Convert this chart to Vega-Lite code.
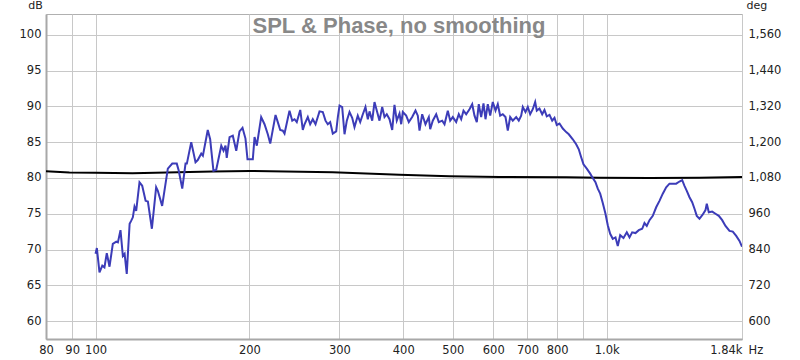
{
  "$schema": "https://vega.github.io/schema/vega-lite/v6.json",
  "width": 696,
  "height": 325,
  "autosize": "none",
  "padding": {"left": 46, "top": 14, "right": 58, "bottom": 21},
  "background": "white",
  "config": {
    "view": {"stroke": "#b0b0b0", "strokeWidth": 1},
    "font": "DejaVu Sans",
    "axis": {"labelFont": "DejaVu Sans", "labelFontSize": 11.5, "labelColor": "#222222", "titleFont": "DejaVu Sans", "titleFontSize": 11, "titleFontWeight": "normal", "titleColor": "#222222", "ticks": false}
  },
  "title": {"text": "SPL & Phase, no smoothing", "frame": "group", "anchor": "middle", "orient": "top", "offset": -39, "dx": 5, "fontSize": 22, "fontWeight": "bold", "color": "#888888", "font": "Liberation Sans"},
  "datasets": {
    "spl": [
      {"f": 100.0, "db": 69.4}, {"f": 100.6, "db": 70.2}, {"f": 101.8, "db": 66.8}, {"f": 103.1, "db": 67.75}, {"f": 104.1, "db": 67.5},
      {"f": 105.2, "db": 69.5}, {"f": 106.5, "db": 67.6}, {"f": 108.1, "db": 70.8}, {"f": 109.8, "db": 71.1}, {"f": 110.6, "db": 71.0},
      {"f": 111.9, "db": 72.7}, {"f": 113.1, "db": 69.1}, {"f": 114.0, "db": 69.4}, {"f": 115.1, "db": 66.6}, {"f": 116.6, "db": 73.6},
      {"f": 117.4, "db": 74.0}, {"f": 118.3, "db": 74.5}, {"f": 119.2, "db": 76.0}, {"f": 120.1, "db": 75.4}, {"f": 121.9, "db": 79.4},
      {"f": 123.4, "db": 78.9}, {"f": 125.3, "db": 76.8}, {"f": 126.6, "db": 76.7}, {"f": 128.9, "db": 72.9}, {"f": 131.4, "db": 78.7},
      {"f": 132.4, "db": 78.2}, {"f": 135.0, "db": 76.1}, {"f": 138.5, "db": 81.3}, {"f": 141.3, "db": 82.0}, {"f": 144.2, "db": 82.0},
      {"f": 145.5, "db": 81.0}, {"f": 147.8, "db": 78.5}, {"f": 150.0, "db": 82.0}, {"f": 150.9, "db": 82.0}, {"f": 153.9, "db": 85.0},
      {"f": 156.9, "db": 82.2}, {"f": 158.5, "db": 82.5}, {"f": 161.0, "db": 83.4}, {"f": 162.2, "db": 83.1}, {"f": 165.8, "db": 86.7},
      {"f": 167.6, "db": 85.4}, {"f": 170.1, "db": 81.0}, {"f": 172.2, "db": 81.1}, {"f": 176.2, "db": 84.5}, {"f": 178.0, "db": 83.8},
      {"f": 179.6, "db": 84.5}, {"f": 180.6, "db": 82.8}, {"f": 182.9, "db": 85.7}, {"f": 185.6, "db": 85.9}, {"f": 188.5, "db": 83.8},
      {"f": 191.3, "db": 86.5}, {"f": 193.9, "db": 87.0}, {"f": 196.5, "db": 85.5}, {"f": 198.3, "db": 82.6}, {"f": 201.0, "db": 82.6},
      {"f": 203.1, "db": 82.6}, {"f": 204.7, "db": 85.7}, {"f": 206.8, "db": 84.5}, {"f": 210.9, "db": 88.5}, {"f": 214.1, "db": 87.5},
      {"f": 217.3, "db": 86.1}, {"f": 219.7, "db": 84.8}, {"f": 225.0, "db": 88.8}, {"f": 227.3, "db": 87.8}, {"f": 229.8, "db": 86.7},
      {"f": 232.5, "db": 86.6}, {"f": 234.3, "db": 86.2}, {"f": 239.6, "db": 89.4}, {"f": 242.6, "db": 88.0}, {"f": 245.1, "db": 88.2},
      {"f": 247.6, "db": 87.8}, {"f": 251.5, "db": 89.5}, {"f": 254.4, "db": 86.7}, {"f": 256.4, "db": 87.5}, {"f": 260.2, "db": 88.5},
      {"f": 263.0, "db": 87.5}, {"f": 266.1, "db": 88.2}, {"f": 269.4, "db": 87.5}, {"f": 274.3, "db": 89.3}, {"f": 278.4, "db": 89.2},
      {"f": 281.8, "db": 88.0}, {"f": 284.7, "db": 87.5}, {"f": 287.8, "db": 87.8}, {"f": 291.2, "db": 86.2}, {"f": 295.7, "db": 86.5},
      {"f": 297.9, "db": 88.5}, {"f": 300.2, "db": 90.1}, {"f": 303.8, "db": 89.9}, {"f": 307.0, "db": 86.1}, {"f": 310.2, "db": 88.0},
      {"f": 314.0, "db": 89.2}, {"f": 317.8, "db": 88.4}, {"f": 321.1, "db": 87.1}, {"f": 325.9, "db": 88.7}, {"f": 329.5, "db": 87.8},
      {"f": 333.4, "db": 88.9}, {"f": 337.4, "db": 89.9}, {"f": 341.0, "db": 88.2}, {"f": 343.6, "db": 89.3}, {"f": 347.8, "db": 88.0},
      {"f": 351.4, "db": 90.6}, {"f": 355.1, "db": 89.4}, {"f": 359.4, "db": 88.0}, {"f": 363.8, "db": 89.9}, {"f": 367.6, "db": 88.5},
      {"f": 371.4, "db": 88.9}, {"f": 376.0, "db": 88.2}, {"f": 380.6, "db": 86.7}, {"f": 384.5, "db": 90.2}, {"f": 388.5, "db": 88.0},
      {"f": 393.3, "db": 89.0}, {"f": 396.3, "db": 87.5}, {"f": 399.2, "db": 89.2}, {"f": 405.3, "db": 88.7}, {"f": 410.1, "db": 87.8},
      {"f": 416.4, "db": 88.5}, {"f": 422.7, "db": 89.4}, {"f": 427.1, "db": 88.7}, {"f": 430.4, "db": 86.6}, {"f": 435.6, "db": 88.9},
      {"f": 442.1, "db": 87.5}, {"f": 448.8, "db": 88.5}, {"f": 451.6, "db": 86.8}, {"f": 456.9, "db": 88.0}, {"f": 464.0, "db": 88.9},
      {"f": 469.5, "db": 87.8}, {"f": 476.7, "db": 88.0}, {"f": 481.7, "db": 87.5}, {"f": 488.9, "db": 89.4}, {"f": 494.2, "db": 88.0},
      {"f": 500.0, "db": 88.5}, {"f": 507.7, "db": 87.8}, {"f": 513.7, "db": 88.9}, {"f": 519.3, "db": 88.2}, {"f": 524.7, "db": 89.4},
      {"f": 531.1, "db": 88.9}, {"f": 539.1, "db": 89.6}, {"f": 545.7, "db": 90.3}, {"f": 551.4, "db": 88.7}, {"f": 557.1, "db": 87.8},
      {"f": 562.1, "db": 90.3}, {"f": 568.2, "db": 88.5}, {"f": 574.2, "db": 90.4}, {"f": 579.4, "db": 88.2}, {"f": 585.4, "db": 90.3},
      {"f": 591.8, "db": 88.7}, {"f": 598.7, "db": 90.6}, {"f": 606.1, "db": 89.4}, {"f": 612.4, "db": 90.3}, {"f": 619.0, "db": 88.7},
      {"f": 626.3, "db": 88.9}, {"f": 634.0, "db": 88.5}, {"f": 640.6, "db": 86.6}, {"f": 647.5, "db": 88.5}, {"f": 655.2, "db": 88.0},
      {"f": 665.3, "db": 88.5}, {"f": 673.1, "db": 88.0}, {"f": 680.4, "db": 88.7}, {"f": 685.4, "db": 89.9}, {"f": 693.7, "db": 89.2},
      {"f": 701.0, "db": 89.9}, {"f": 708.6, "db": 88.9}, {"f": 716.9, "db": 89.6}, {"f": 724.7, "db": 90.6}, {"f": 730.0, "db": 89.4},
      {"f": 738.9, "db": 89.7}, {"f": 748.0, "db": 88.9}, {"f": 755.7, "db": 89.5}, {"f": 763.6, "db": 88.6}, {"f": 773.0, "db": 88.8},
      {"f": 782.4, "db": 88.0}, {"f": 790.6, "db": 88.4}, {"f": 798.8, "db": 87.4}, {"f": 808.6, "db": 87.6}, {"f": 820.7, "db": 86.9},
      {"f": 833.4, "db": 86.4}, {"f": 843.2, "db": 86.1}, {"f": 858.5, "db": 85.4}, {"f": 871.7, "db": 84.7}, {"f": 882.0, "db": 84.0},
      {"f": 891.6, "db": 82.9}, {"f": 900.9, "db": 81.9}, {"f": 914.4, "db": 81.3}, {"f": 928.5, "db": 80.6}, {"f": 939.4, "db": 80.0},
      {"f": 950.9, "db": 79.4}, {"f": 960.8, "db": 78.5}, {"f": 971.3, "db": 77.8}, {"f": 982.7, "db": 76.5}, {"f": 994.7, "db": 75.0},
      {"f": 1005.1, "db": 73.4}, {"f": 1016.0, "db": 72.2}, {"f": 1028.0, "db": 71.5}, {"f": 1040.6, "db": 71.7}, {"f": 1051.4, "db": 70.5},
      {"f": 1062.9, "db": 72.0}, {"f": 1078.8, "db": 71.6}, {"f": 1095.0, "db": 72.4}, {"f": 1108.4, "db": 71.7}, {"f": 1121.9, "db": 72.4},
      {"f": 1138.7, "db": 72.3}, {"f": 1155.8, "db": 72.7}, {"f": 1173.6, "db": 72.9}, {"f": 1185.8, "db": 73.7}, {"f": 1198.2, "db": 73.3},
      {"f": 1212.9, "db": 74.1}, {"f": 1231.0, "db": 74.7}, {"f": 1250.0, "db": 75.9}, {"f": 1268.7, "db": 76.8}, {"f": 1287.7, "db": 77.8},
      {"f": 1307.6, "db": 78.7}, {"f": 1327.2, "db": 79.2}, {"f": 1347.1, "db": 79.2}, {"f": 1367.9, "db": 79.2}, {"f": 1388.4, "db": 79.5},
      {"f": 1405.4, "db": 79.7}, {"f": 1420.0, "db": 78.9}, {"f": 1434.8, "db": 78.2}, {"f": 1452.4, "db": 77.3}, {"f": 1470.1, "db": 76.6},
      {"f": 1485.5, "db": 75.7}, {"f": 1500.9, "db": 74.7}, {"f": 1519.3, "db": 74.3}, {"f": 1542.1, "db": 74.9}, {"f": 1560.9, "db": 75.5},
      {"f": 1570.1, "db": 76.4}, {"f": 1584.3, "db": 75.2}, {"f": 1608.8, "db": 75.3}, {"f": 1632.9, "db": 75.0}, {"f": 1657.3, "db": 74.7},
      {"f": 1682.9, "db": 74.1}, {"f": 1708.1, "db": 73.3}, {"f": 1739.2, "db": 72.6}, {"f": 1765.2, "db": 72.5}, {"f": 1792.5, "db": 71.9},
      {"f": 1819.3, "db": 71.2}, {"f": 1840.0, "db": 70.4}
    ],
    "phase": [
      {"f": 80, "deg": 1102}, {"f": 88.9, "deg": 1098}, {"f": 100, "deg": 1097}, {"f": 118.1, "deg": 1095.4},
      {"f": 169.4, "deg": 1101.5}, {"f": 200.1, "deg": 1103.5}, {"f": 290.8, "deg": 1098.8}, {"f": 393.3, "deg": 1091},
      {"f": 492.6, "deg": 1085.4}, {"f": 617.1, "deg": 1083.4}, {"f": 834.5, "deg": 1082}, {"f": 968.2, "deg": 1081},
      {"f": 1212.9, "deg": 1080}, {"f": 1519.3, "deg": 1081}, {"f": 1840, "deg": 1083.4}
    ]
  },
  "layer": [
    {
      "data": {"name": "phase"},
      "mark": {"type": "line", "color": "#000000", "strokeWidth": 2, "clip": true},
      "encoding": {
        "x": {"field": "f", "type": "quantitative", "scale": {"type": "log", "domain": [80, 1840], "nice": false},
          "axis": {"values": [80, 90, 100, 200, 300, 400, 500, 600, 700, 800, 900, 1000, 1840],
            "labelExpr": "datum.value == 900 ? '' : datum.value == 1000 ? '1.0k' : datum.value == 1840 ? '1.84k' : format(datum.value, 'd')",
            "labelAlign": {"condition": {"test": "datum.value == 1840", "value": "right"}, "value": "center"},
            "grid": true, "gridColor": "#c8c8c8", "gridWidth": 1, "labelPadding": 5,
            "domainColor": "#a8a8a8", "domainWidth": 2,
            "title": "Hz", "titleAlign": "left", "titleBaseline": "top", "titleFontSize": 11.5, "titleX": 702, "titleY": 5}},
        "y": {"field": "deg", "type": "quantitative", "scale": {"domain": [540, 1629.6], "nice": false, "zero": false},
          "axis": {"orient": "right", "values": [600, 720, 840, 960, 1080, 1200, 1320, 1440, 1560],
            "labelExpr": "format(datum.value, ',d')",
            "grid": false, "domain": false, "labelPadding": 6,
            "title": "deg", "titleAngle": 0, "titleAlign": "left", "titleBaseline": "bottom", "titleX": 4, "titleY": -4}}
      }
    },
    {
      "data": {"name": "spl"},
      "mark": {"type": "line", "color": "#3c3cb8", "strokeWidth": 2, "clip": true},
      "encoding": {
        "x": {"field": "f", "type": "quantitative"},
        "y": {"field": "db", "type": "quantitative", "scale": {"domain": [57.5, 102.9], "nice": false, "zero": false},
          "axis": {"orient": "left", "values": [60, 65, 70, 75, 80, 85, 90, 95, 100],
            "grid": true, "gridColor": "#c8c8c8", "gridWidth": 1, "labelPadding": 5,
            "domainColor": "#a8a8a8", "domainWidth": 2,
            "title": "dB", "titleAngle": 0, "titleAlign": "center", "titleBaseline": "bottom", "titleX": -11, "titleY": -4}}
      }
    }
  ],
  "resolve": {"scale": {"y": "independent"}}
}
